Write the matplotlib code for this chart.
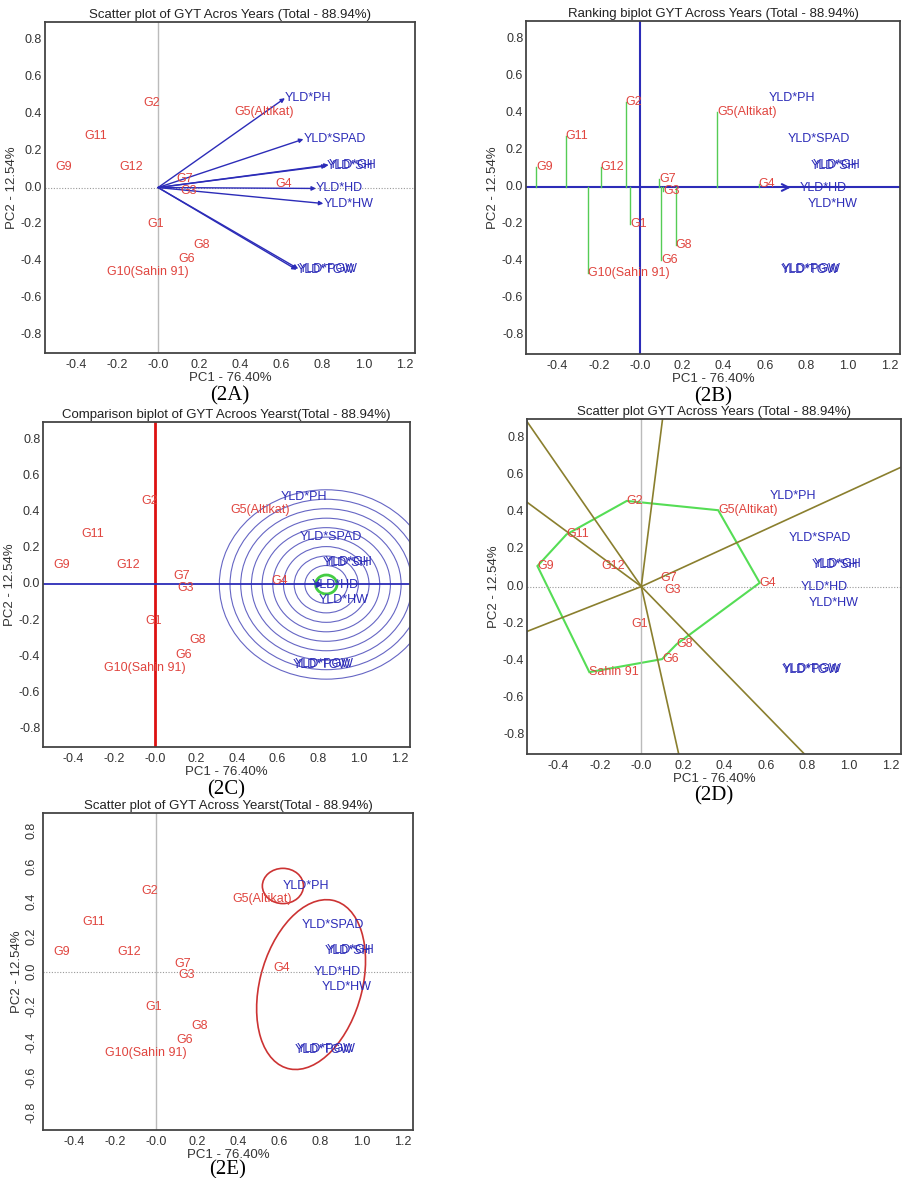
import matplotlib
matplotlib.use("Agg")
import matplotlib.pyplot as plt
from matplotlib.patches import Circle, Ellipse, Polygon
import numpy as np

plt.rcParams['font.family'] = ['Liberation Sans', 'DejaVu Sans']

# genotype scores (PC1, PC2)
geno_names = ["G1", "G2", "G3", "G4", "G5(Altikat)", "G6", "G7", "G8",
              "G9", "G10(Sahin 91)", "G11", "G12"]
geno_pc1 = [-0.05, -0.07, 0.11, 0.57, 0.37, 0.10, 0.09, 0.17, -0.50, -0.25, -0.36, -0.19]
geno_pc2 = [-0.20, 0.46, -0.02, 0.02, 0.41, -0.39, 0.045, -0.31, 0.11, -0.46, 0.28, 0.11]

# trait (environment) vectors
env_names = ["YLD*PH", "YLD*SPAD", "YLD*SH", "YLD*GH", "YLD*HD", "YLD*HW", "YLD*TGW", "YLD*PGW"]
env_pc1 = [0.617, 0.707, 0.820, 0.830, 0.768, 0.804, 0.674, 0.682]
env_pc2 = [0.486, 0.263, 0.118, 0.123, -0.005, -0.087, -0.447, -0.442]

# polygon (which-won-where) vertices, clockwise
polygon_order = ["G2", "G5(Altikat)", "G4", "G8", "G6", "G10(Sahin 91)", "G9", "G11"]

xticks = [-0.4, -0.2, 0.0, 0.2, 0.4, 0.6, 0.8, 1.0, 1.2]
xtick_labels = ["-0.4", "-0.2", "-0.0", "0.2", "0.4", "0.6", "0.8", "1.0", "1.2"]
yticks = [-0.8, -0.6, -0.4, -0.2, 0.0, 0.2, 0.4, 0.6, 0.8]
ytick_labels = ["-0.8", "-0.6", "-0.4", "-0.2", "0.0", "0.2", "0.4", "0.6", "0.8"]

RED = "#e0453f"
BLUE = "#2c2cb8"
GREY = "#bbbbbb"

geno = {n: (x, y) for n, x, y in zip(geno_names, geno_pc1, geno_pc2)}
env = {n: (x, y) for n, x, y in zip(env_names, env_pc1, env_pc2)}


def setup(ax, title, caption, cap_off=31, rot_y=False):
    ax.set_xlim(-0.55, 1.25)
    ax.set_ylim(-0.9, 0.9)
    ax.set_xticks(xticks)
    ax.set_xticklabels(xtick_labels)
    ax.set_yticks(yticks)
    ax.set_yticklabels(ytick_labels, rotation=90 if rot_y else 0, va="center")
    ax.tick_params(length=0, labelsize=9, colors="#333333")
    ax.tick_params(axis="x", pad=4)
    ax.tick_params(axis="y", pad=2 if not rot_y else 4)
    for s in ax.spines.values():
        s.set_linewidth(1.3)
        s.set_color("#444444")
    ax.set_title(title, fontsize=9.5, pad=3, color="#222222")
    ax.set_xlabel("PC1 - 76.40%", fontsize=9.5, labelpad=1, color="#333333")
    ax.set_ylabel("PC2 - 12.54%", fontsize=9.5, labelpad=2, color="#333333")
    ax.annotate(caption, xy=(0.5, 0), xycoords="axes fraction",
                xytext=(0, -cap_off), textcoords="offset points",
                ha="center", va="center", fontsize=15, family="Liberation Serif")


def geno_labels(ax, names=None):
    labels = names if names is not None else geno_names
    for lab, x, y in zip(labels, geno_pc1, geno_pc2):
        ax.text(x, y, lab, color=RED, fontsize=9, ha="left", va="center")


def env_labels(ax):
    for lab, x, y in zip(env_names, env_pc1, env_pc2):
        ax.text(x, y, lab, color=BLUE, fontsize=9, ha="left", va="center")


def grey_axes(ax):
    ax.axvline(0, color=GREY, lw=1)
    ax.axhline(0, color="#999999", lw=0.8, ls=(0, (1, 1.5)))


fig = plt.figure(figsize=(9.04, 11.78), dpi=100)

# (2A) scatter with vectors
ax = fig.add_axes([0.0498, 0.7003, 0.4093, 0.2810])
setup(ax, "Scatter plot of GYT Acros Years (Total - 88.94%)", "(2A)")
grey_axes(ax)
for x, y in zip(env_pc1, env_pc2):
    ax.annotate("", xy=(x, y), xytext=(0, 0),
                arrowprops=dict(arrowstyle="-|>", color=BLUE, lw=1.0, mutation_scale=6,
                                shrinkA=0, shrinkB=0))
geno_labels(ax)
env_labels(ax)

# (2B) ranking biplot
ax = fig.add_axes([0.5819, 0.6995, 0.4137, 0.2827])
setup(ax, "Ranking biplot GYT Across Years (Total - 88.94%)", "(2B)", cap_off=31)
ax.axvline(0, color=BLUE, lw=1.5)
ax.axhline(0, color=BLUE, lw=1.5)
for x, y in zip(geno_pc1, geno_pc2):
    ax.plot([x, x], [0, y], color="#55cc55", lw=1)
mean_x = np.mean(env_pc1)
ax.annotate("", xy=(mean_x, 0), xytext=(mean_x - 0.05, 0),
            arrowprops=dict(arrowstyle="->", color=BLUE, lw=1.5, mutation_scale=12))
geno_labels(ax)
env_labels(ax)

# (2C) comparison with ideal point
ax = fig.add_axes([0.0476, 0.3659, 0.4060, 0.2759])
setup(ax, "Comparison biplot of GYT Acroos Yearst(Total - 88.94%)", "(2C)")
ideal = max(np.hypot(env_pc1, env_pc2))
step = ideal / 16
for k in range(2, 11):
    ax.add_patch(Circle((ideal, 0), k * step, fill=False, ec="#6666c4", lw=0.8))
ax.add_patch(Circle((ideal, 0), step, fill=False, ec="#44cc44", lw=2))
ax.axvline(0, color="#dd1111", lw=2)
ax.axhline(0, color=BLUE, lw=1.3)
ax.annotate("", xy=(ideal, 0), xytext=(ideal - 0.05, 0),
            arrowprops=dict(arrowstyle="-|>", color=BLUE, lw=1.2, mutation_scale=8))
geno_labels(ax)
env_labels(ax)

# (2D) which-won-where polygon
ax = fig.add_axes([0.5830, 0.3599, 0.4137, 0.2844])
setup(ax, "Scatter plot GYT Across Years (Total - 88.94%)", "(2D)", cap_off=30)
grey_axes(ax)
ax.add_patch(Polygon([geno[g] for g in polygon_order], closed=True, fill=False,
                     ec="#55dd55", lw=1.5))
# G8 lies on the G4-G6 edge, so it does not add a sector line
ray_order = [g for g in polygon_order if g != "G8"]
for i in range(len(ray_order)):
    x1, y1 = geno[ray_order[i]]
    x2, y2 = geno[ray_order[(i + 1) % len(ray_order)]]
    nx, ny = -(y2 - y1), (x2 - x1)
    n = np.hypot(nx, ny)
    ax.plot([0, 4 * nx / n], [0, 4 * ny / n], color="#8a7f2e", lw=1.2)
geno_labels(ax, [n if not n.startswith("G10") else "Sahin 91" for n in geno_names])
env_labels(ax)

# (2E) grouping of traits
ax = fig.add_axes([0.0476, 0.0407, 0.4093, 0.2691])
setup(ax, "Scatter plot of GYT Across Yearst(Total - 88.94%)", "(2E)", cap_off=28.5, rot_y=True)
grey_axes(ax)
geno_labels(ax)
env_labels(ax)
ax.add_patch(Circle(env["YLD*PH"], 0.1, fill=False, ec="#cc3333", lw=1.2))
ax.add_patch(Ellipse((0.754, -0.074), 0.98, 0.5, angle=78, fill=False, ec="#cc3333", lw=1.2))

fig.savefig("out.png", dpi=100)
